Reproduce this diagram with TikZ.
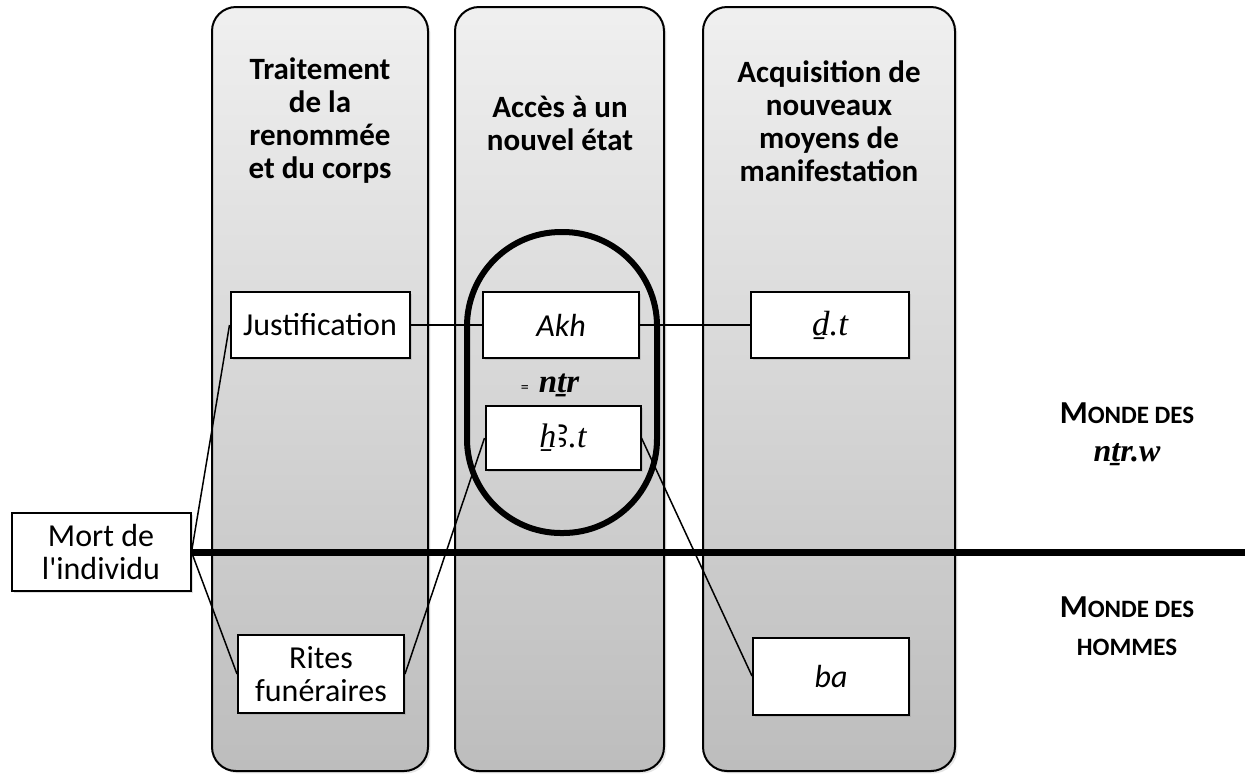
\documentclass[tikz,border=0pt]{standalone}
\usepackage{fontspec}
\setmainfont{Carlito}
\newfontfamily\translit{Liberation Serif}
\newfontfamily\alef{Noto Sans}
\usetikzlibrary{shadows}

% fake small capitals for the two world labels
\newcommand\petitcap[1]{{\fontsize{12.5}{15}\selectfont #1}}

\begin{document}
\begin{tikzpicture}[x=0.5pt, y=-0.5pt,
    colonne/.style={draw, line width=1pt, rounded corners=12pt,
        top color=black!6, bottom color=black!26,
        drop shadow={opacity=0.2, shadow xshift=1.2pt, shadow yshift=-1.2pt}},
    boite/.style={draw, line width=1pt, fill=white, inner sep=0pt, align=center,
        font=\fontsize{16}{16.5}\selectfont,
        drop shadow={opacity=0.25, shadow xshift=1pt, shadow yshift=-1.2pt}},
    titre/.style={align=center, font=\bfseries\fontsize{15.5}{16.5}\selectfont},
    monde/.style={align=center, font=\bfseries\fontsize{16}{19}\selectfont},
    lien/.style={line width=0.75pt}]

    \useasboundingbox (0,0) rectangle (1245,773);

    % Draw the three columns
    \draw[colonne] (212,7) rectangle (428,771);
    \draw[colonne] (455,7) rectangle (664,771);
    \draw[colonne] (703,7) rectangle (955,771);

    % Column titles
    \node[titre] (t1) at (320,121) {Traitement\\de la\\renommée\\et du corps};
    \node[titre] (t2) at (560,123) {Accès à un\\nouvel état};
    \node[titre] (t3) at (829,121) {Acquisition de\\nouveaux\\moyens de\\manifestation};

    % The new state
    \node[draw, line width=3pt, rounded corners=47pt, minimum width=95pt,
        minimum height=150.5pt] (ovale) at (562,382.5) {};

    % Boxes
    \node[boite, minimum width=89.5pt, minimum height=39pt] (mort) at (101,552) {Mort de\\l\textquotesingle individu};
    \node[boite, minimum width=89.5pt, minimum height=33pt] (justif) at (320,325) {Justification};
    \node[boite, minimum width=83pt, minimum height=39pt] (rites) at (321,674) {Rites\\funéraires};
    \node[boite, minimum width=78pt, minimum height=33pt] (akh) at (561,325) {\itshape Akh};
    \node[boite, minimum width=77.5pt, minimum height=32pt] (khat) at (563,438) {\translit\itshape\fontsize{17}{17}\selectfont ẖ{\alef\upshape\fontsize{19}{19}\selectfont ꜣ}.t};
    \node[boite, minimum width=79pt, minimum height=33pt] (djet) at (830,325) {\translit\itshape\fontsize{17.5}{17.5}\selectfont ḏ.t};
    \node[boite, minimum width=78pt, minimum height=38.5pt] (ba) at (831,676) {\itshape ba};
    \node (netjer) at (550,385) {{\fontsize{8}{8}\selectfont =}\hspace{5pt}{\translit\bfseries\itshape\fontsize{16.5}{16.5}\selectfont nṯr}};

    % Border between the two worlds
    \coordinate (bord) at (1245,552);
    \draw[line width=3.5pt] (mort.east) -- (bord);

    % Connectors
    \draw[lien] (mort.east) -- (justif.west);
    \draw[lien] (mort.east) -- (rites.west);
    \draw[lien] (justif.east) -- (akh.west);
    \draw[lien] (akh.east) -- (djet.west);
    \draw[lien] (rites.east) -- (khat.west);
    \draw[lien] (khat.east) -- (ba.west);

    % Label the two worlds
    \node[monde] (dieux) at (1127,434) {M\petitcap{ONDE DES}\\{\translit\itshape nṯr.w}};
    \node[monde] (hommes) at (1127,626) {M\petitcap{ONDE DES}\\\petitcap{HOMMES}};
\end{tikzpicture}
\end{document}
